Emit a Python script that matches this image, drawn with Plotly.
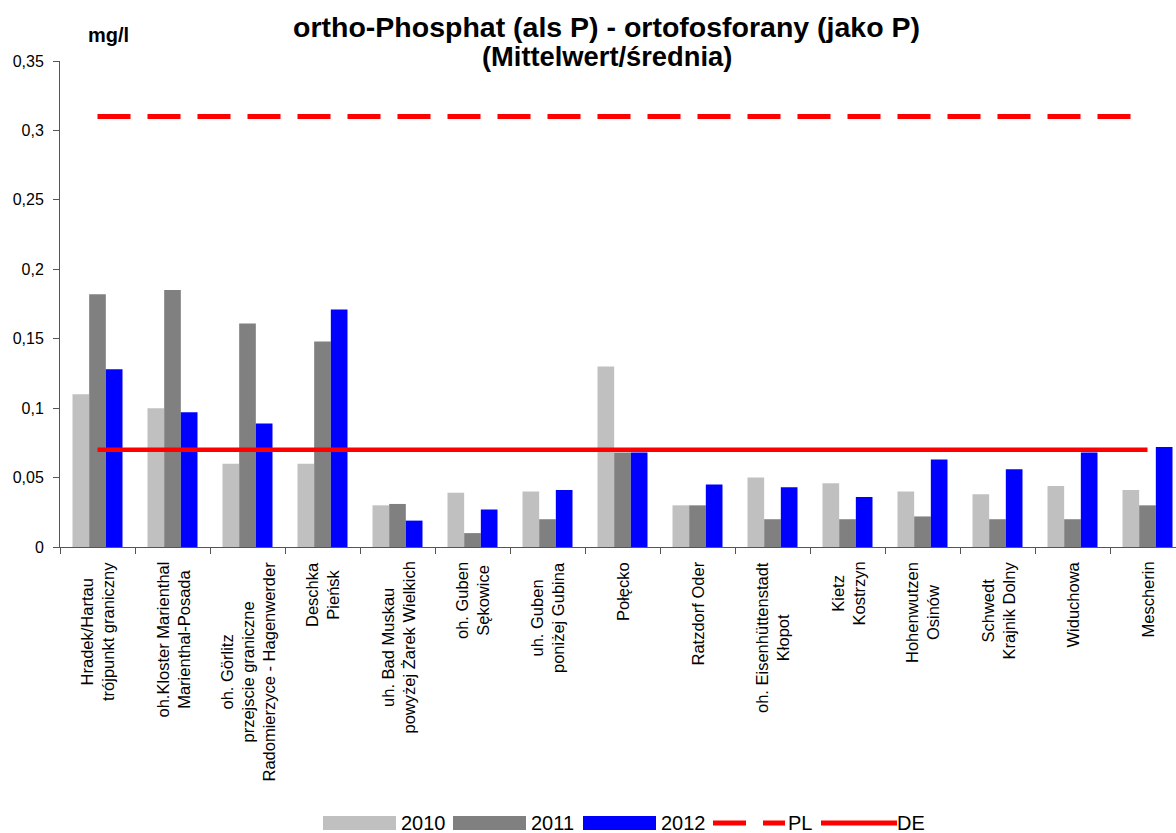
import plotly.graph_objects as go

# ---------------- data ----------------
categories = [
    "Hradek/Hartau<br>trójpunkt graniczny",
    "oh.Kloster Marienthal<br>Marienthal-Posada",
    "oh. Görlitz<br>przejscie graniczne<br>Radomierzyce - Hagenwerder",
    "Deschka<br>Pieńsk",
    "uh. Bad Muskau<br>powyżej Żarek Wielkich",
    "oh. Guben<br>Sękowice",
    "uh. Guben<br>poniżej Gubina",
    "Połęcko",
    "Ratzdorf Oder",
    "oh. Eisenhüttenstadt<br>Kłopot",
    "Kietz<br>Kostrzyn",
    "Hohenwutzen<br>Osinów",
    "Schwedt<br>Krajnik Dolny",
    "Widuchowa",
    "Mescherin",
]
values_2010 = [0.110, 0.100, 0.060, 0.060, 0.030, 0.039, 0.040, 0.130, 0.030, 0.050, 0.046, 0.040, 0.038, 0.044, 0.041]
values_2011 = [0.182, 0.185, 0.161, 0.148, 0.031, 0.010, 0.020, 0.068, 0.030, 0.020, 0.020, 0.022, 0.020, 0.020, 0.030]
values_2012 = [0.128, 0.097, 0.089, 0.171, 0.019, 0.027, 0.041, 0.068, 0.045, 0.043, 0.036, 0.063, 0.056, 0.068, 0.072]
series_names = ["2010", "2011", "2012"]
limit_names = ["PL", "DE"]
limit_pl = 0.31
limit_de = 0.07
y_tick_values = [0, 0.05, 0.1, 0.15, 0.2, 0.25, 0.3, 0.35]
y_tick_labels = ["0", "0,05", "0,1", "0,15", "0,2", "0,25", "0,3", "0,35"]
title_line1 = "ortho-Phosphat (als P) - ortofosforany (jako P)"
title_line2 = "(Mittelwert/średnia)"
unit_label = "mg/l"

# ---------------- layout geometry ----------------
W, H = 1176, 833
L, R, T, B = 60, 0, 61, 286
PW, PH = W - L - R, H - T - B
CAT_PX = 75.0


def px_x(px):
    return (px - L) / PW


def px_y(py):
    return (H - B - py) / PH


FONT = "Liberation Sans, Arial, sans-serif"
AXIS_COLOR = "#555555"
bar_colors = ["#C0C0C0", "#808080", "#0000FF"]
RED = "#FF0000"

fig = go.Figure()
for name, vals, col in zip(series_names, [values_2010, values_2011, values_2012], bar_colors):
    fig.add_trace(go.Bar(x=categories, y=vals, name=name,
                         marker=dict(color=col, line=dict(width=0)), showlegend=False))

fig.add_trace(go.Scatter(x=[categories[0], categories[-1]], y=[limit_pl, limit_pl],
                         mode="lines", name=limit_names[0], showlegend=False,
                         line=dict(color=RED, width=5, dash="33px,17px")))
fig.add_trace(go.Scatter(x=[categories[0], categories[-1]], y=[limit_de, limit_de],
                         mode="lines", name=limit_names[1], showlegend=False,
                         line=dict(color=RED, width=4.5)))

annotations = []
# category labels (rotated, centred lines)
for c in categories:
    annotations.append(dict(x=c, xref="x", y=px_y(560), yref="paper", text=c,
                            textangle=-90, showarrow=False, xanchor="center", yanchor="top",
                            align="center", font=dict(family=FONT, size=16.5, color="black")))

# title
annotations.append(dict(x=px_x(606), y=px_y(45.5), xref="paper", yref="paper", text="<b>%s</b>" % title_line1,
                        showarrow=False, xanchor="center", yanchor="bottom",
                        font=dict(family=FONT, size=28.5, color="black")))
annotations.append(dict(x=px_x(607), y=px_y(74.5), xref="paper", yref="paper", text="<b>%s</b>" % title_line2,
                        showarrow=False, xanchor="center", yanchor="bottom",
                        font=dict(family=FONT, size=27.3, color="black")))
# unit
annotations.append(dict(x=px_x(86), y=px_y(48), xref="paper", yref="paper", text="<b>%s</b>" % unit_label,
                        showarrow=False, xanchor="left", yanchor="bottom",
                        font=dict(family=FONT, size=20, color="black")))

# custom legend
shapes = []
legend_y = 823
swatches = [(323, 396), (453, 526), (583, 656)]
text_x = [399, 529, 659]
for (x0, x1), col, name, tx in zip(swatches, bar_colors, series_names, text_x):
    shapes.append(dict(type="rect", xref="paper", yref="paper", x0=px_x(x0), x1=px_x(x1),
                       y0=px_y(legend_y + 7), y1=px_y(legend_y - 7), fillcolor=col, line=dict(width=0)))
    annotations.append(dict(x=px_x(tx), y=px_y(legend_y), xref="paper", yref="paper", text=name,
                            showarrow=False, xanchor="left", yanchor="middle",
                            font=dict(family=FONT, size=20, color="black")))
shapes.append(dict(type="line", xref="paper", yref="paper", x0=px_x(713), x1=px_x(785),
                   y0=px_y(legend_y), y1=px_y(legend_y), line=dict(color=RED, width=5, dash="33px,17px")))
annotations.append(dict(x=px_x(786), y=px_y(legend_y), xref="paper", yref="paper", text=limit_names[0],
                        showarrow=False, xanchor="left", yanchor="middle",
                        font=dict(family=FONT, size=20, color="black")))
shapes.append(dict(type="line", xref="paper", yref="paper", x0=px_x(821), x1=px_x(897),
                   y0=px_y(legend_y), y1=px_y(legend_y), line=dict(color=RED, width=5)))
annotations.append(dict(x=px_x(895), y=px_y(legend_y), xref="paper", yref="paper", text=limit_names[1],
                        showarrow=False, xanchor="left", yanchor="middle",
                        font=dict(family=FONT, size=20, color="black")))

fig.update_layout(
    width=W, height=H, autosize=False,
    margin=dict(l=L, r=R, t=T, b=B, pad=0),
    paper_bgcolor="white", plot_bgcolor="white",
    barmode="group", bargap=1/3, bargroupgap=0,
    showlegend=False,
    font=dict(family=FONT, color="black"),
    annotations=annotations, shapes=shapes,
)
fig.update_xaxes(type="category", range=[-0.5, -0.5 + PW / CAT_PX], showgrid=False, zeroline=False,
                 showline=True, linecolor=AXIS_COLOR, linewidth=1,
                 ticks="outside", ticklen=6, tickcolor=AXIS_COLOR, tickson="boundaries",
                 showticklabels=False, automargin=False, fixedrange=True)
fig.update_yaxes(range=[0, 0.35], tickvals=y_tick_values, ticktext=y_tick_labels,
                 showgrid=False, zeroline=False, showline=True, linecolor=AXIS_COLOR, linewidth=1,
                 ticks="outside", ticklen=6, tickcolor=AXIS_COLOR, ticklabelstandoff=6,
                 tickfont=dict(family=FONT, size=16, color="black"), automargin=False, fixedrange=True)

fig.write_html("out.html", config={"displayModeBar": False},
               post_script="document.body.style.margin='0';document.body.style.overflow='hidden';")
